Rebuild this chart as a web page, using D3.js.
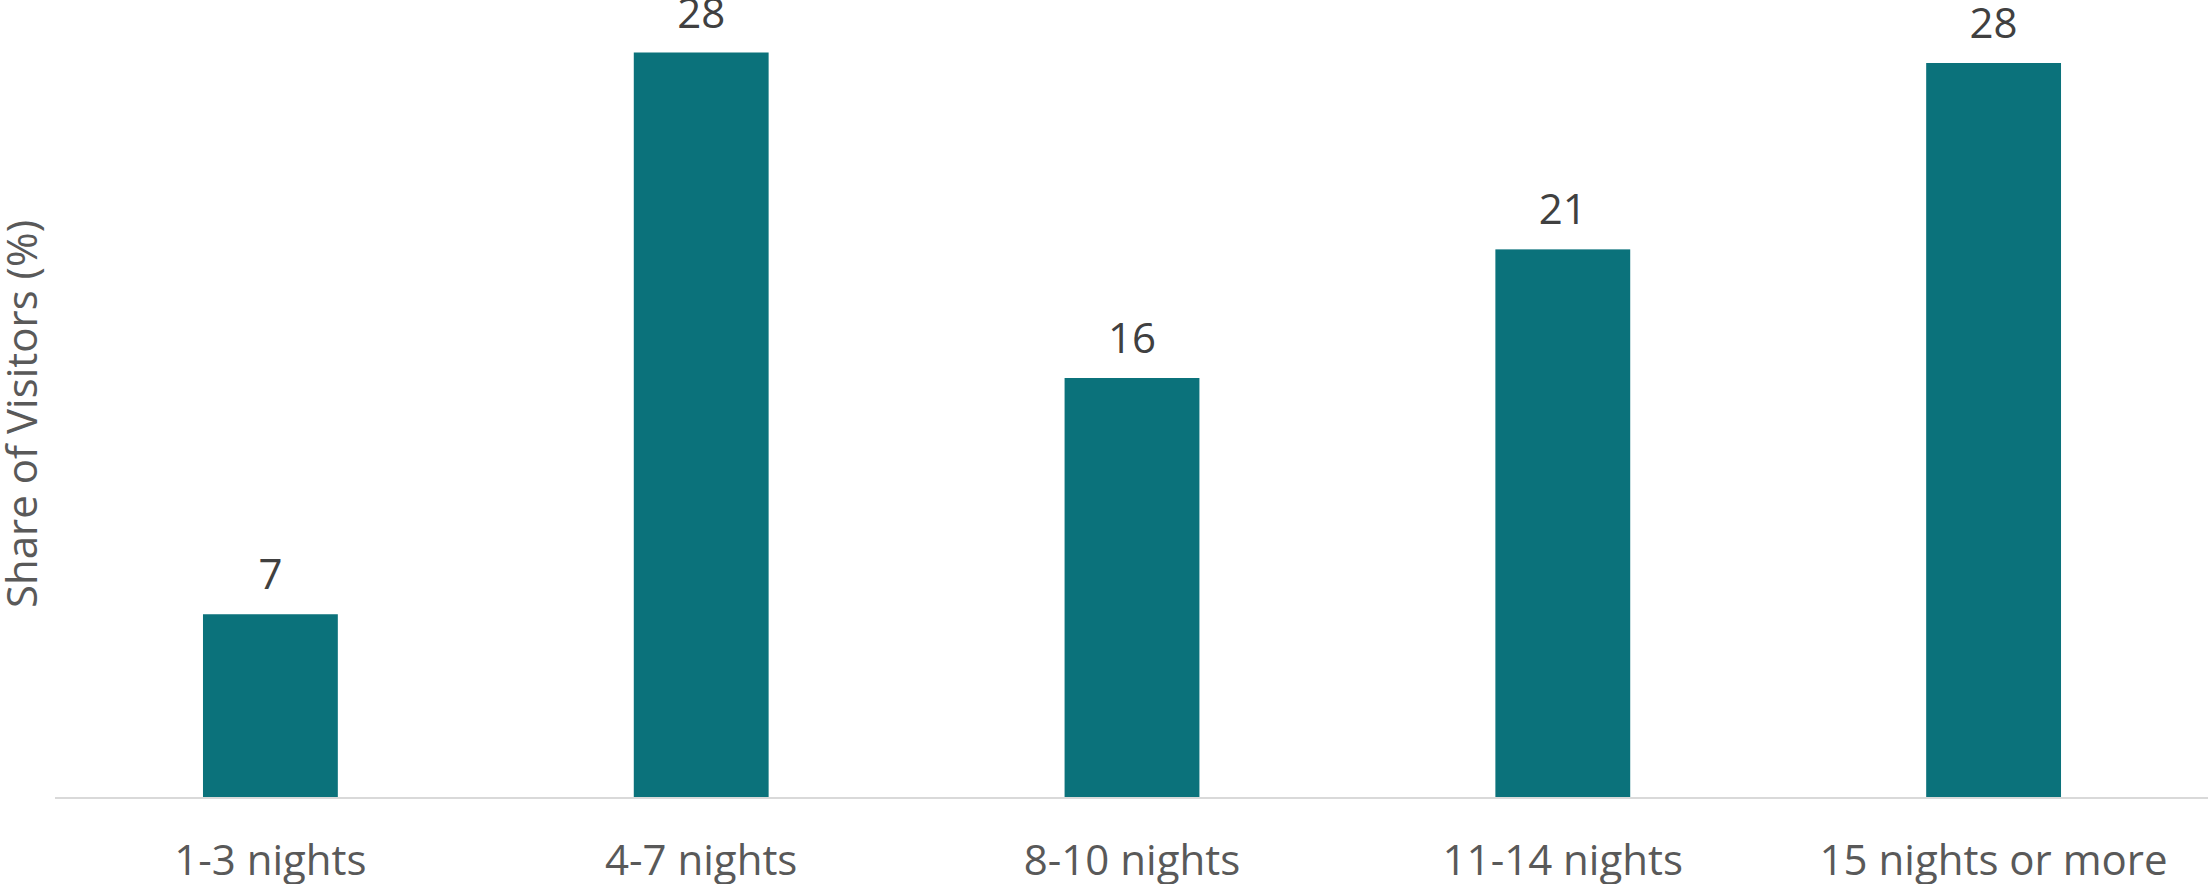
<!DOCTYPE html>
<html>
<head>
<meta charset="utf-8">
<script src="https://cdn.jsdelivr.net/npm/d3@7"></script>
<style>
  html, body { margin: 0; padding: 0; background: #fff; }
  svg { display: block; }
  text { font-family: "Open Sans", "Noto Sans", sans-serif; }
</style>
</head>
<body>
<svg id="chart" width="2208" height="884"></svg>
<script>
// Length of stay categories and share of visitors (%)
const categories = ["1-3 nights", "4-7 nights", "8-10 nights", "11-14 nights", "15 nights or more"];
const shares = [7.0, 28.4, 16.0, 20.9, 28.0];
const yDomain = [0, 30];
const yTitle = "Share of Visitors (%)";

const W = 2208, H = 884;
const margin = { left: 55, right: -1, top: 10.5, bottom: 86 };
const baseY = H - margin.bottom;

const svg = d3.select("#chart");

const x = d3.scaleBand()
  .domain(categories)
  .range([margin.left, W - margin.right])
  .paddingInner(0.687)
  .paddingOuter(0.3435);

const y = d3.scaleLinear()
  .domain(yDomain)
  .range([baseY, margin.top]);

// bars
svg.append("g")
  .selectAll("rect")
  .data(shares)
  .join("rect")
  .attr("x", (d, i) => x(categories[i]))
  .attr("width", x.bandwidth())
  .attr("y", d => y(d))
  .attr("height", d => y(0) - y(d))
  .attr("fill", "#0b727b");

// value labels
const fmt = d3.format(".0f");
svg.append("g")
  .selectAll("text")
  .data(shares)
  .join("text")
  .attr("x", (d, i) => x(categories[i]) + x.bandwidth() / 2)
  .attr("y", d => y(d) - 25)
  .attr("text-anchor", "middle")
  .attr("font-size", 42)
  .attr("fill", "#404040")
  .text(d => fmt(d));

// category axis
const xAxis = svg.append("g")
  .attr("transform", `translate(0,${baseY})`)
  .call(d3.axisBottom(x).tickSize(0).tickPadding(0));
xAxis.select(".domain")
  .attr("d", `M${margin.left},0H${W}`)
  .attr("stroke", "#d9d9d9")
  .attr("stroke-width", 2);
xAxis.selectAll(".tick text")
  .attr("dy", null)
  .attr("y", 77)
  .attr("font-size", 42)
  .attr("font-family", "'Open Sans', 'Noto Sans', sans-serif")
  .attr("fill", "#595959");

// y axis title
svg.append("text")
  .attr("transform", `translate(37,${414}) rotate(-90)`)
  .attr("text-anchor", "middle")
  .attr("font-size", 42)
  .attr("fill", "#595959")
  .text(yTitle);
</script>
</body>
</html>
